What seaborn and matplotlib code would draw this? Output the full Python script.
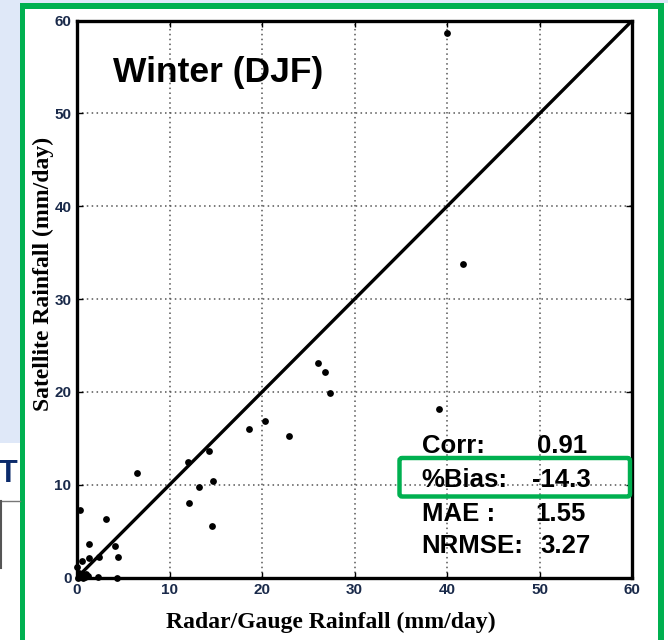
import matplotlib
matplotlib.use("Agg")
import matplotlib.pyplot as plt
from matplotlib import font_manager
from matplotlib.patches import Rectangle, FancyBboxPatch
import seaborn as sns
import pandas as pd

# ---- data ----
radar_gauge = [40.0, 41.7, 39.15, 26.0, 26.8, 27.3, 18.6, 20.3, 22.9, 14.3, 12.0,
               6.5, 14.7, 13.2, 12.1, 14.6, 0.36, 3.1, 1.3, 4.1, 4.4, 2.4, 1.3,
               0.5, 0.0, 2.3, 4.3, 0.1, 0.3, 0.5, 0.7, 0.9, 1.2, 0.2, 0.6, 1.0]
satellite = [58.7, 33.8, 18.15, 23.15, 22.1, 19.9, 16.0, 16.9, 15.3, 13.6, 12.5,
             11.3, 10.4, 9.8, 8.05, 5.6, 7.26, 6.3, 3.6, 3.4, 2.2, 2.2, 2.1,
             1.8, 1.1, 0.05, 0.0, 0.0, 0.2, 0.1, 0.3, 0.1, 0.2, 0.5, 0.0, 0.4]
axis_limits = [0, 60]
tick_values = [0, 10, 20, 30, 40, 50, 60]
title_text = "Winter (DJF)"
stat_names = ["Corr:", "%Bias:", "MAE :", "NRMSE:"]
stat_values = ["0.91", "-14.3", "1.55", "3.27"]

df = pd.DataFrame({"x": radar_gauge, "y": satellite})

available = {f.name for f in font_manager.fontManager.ttflist}
narrow = "Liberation Sans Narrow" if "Liberation Sans Narrow" in available else "Liberation Sans"
title_size = 31 if narrow == "Liberation Sans Narrow" else 25.5

W, H = 668, 640
fig = plt.figure(figsize=(W / 100, H / 100), dpi=100)
fig.patch.set_facecolor("white")

def fx(px):
    return px / W

def fy(py):
    return 1 - py / H

GREEN = "#00b050"
LBLUE = "#dfe8f8"
# background pieces outside the frame
fig.patches.append(Rectangle((0, fy(443)), fx(22), fy(0) - fy(443), transform=fig.transFigure,
                             facecolor=LBLUE, edgecolor="none", zorder=0))
fig.patches.append(Rectangle((0, fy(3)), 1, fy(0) - fy(3), transform=fig.transFigure,
                             facecolor=LBLUE, edgecolor="none", zorder=0))
# green frame
fig.patches.append(Rectangle((fx(20), fy(645)), fx(5), fy(3) - fy(645), transform=fig.transFigure,
                             facecolor=GREEN, edgecolor="none", zorder=1))
fig.patches.append(Rectangle((fx(20), fy(9)), fx(664) - fx(20), fy(3) - fy(9), transform=fig.transFigure,
                             facecolor=GREEN, edgecolor="none", zorder=1))
fig.patches.append(Rectangle((fx(658), fy(645)), fx(6), fy(3) - fy(645), transform=fig.transFigure,
                             facecolor=GREEN, edgecolor="none", zorder=1))
# fragment of neighbouring slide content on the left
fig.text(fx(-1), fy(482), "T", fontsize=22, fontweight="bold", color="#0b2a6b",
         family="Liberation Sans", ha="left", va="baseline")
fig.lines.append(plt.Line2D([0, fx(20)], [fy(501), fy(501)], transform=fig.transFigure,
                            color="#777777", lw=1))
fig.lines.append(plt.Line2D([fx(0.8), fx(0.8)], [fy(501), fy(568)], transform=fig.transFigure,
                            color="#555555", lw=1.5))

ax = fig.add_axes([fx(77), fy(577.6), fx(632.3) - fx(77), fy(20.5) - fy(577.6)])
ax.set_facecolor("white")

sns.scatterplot(data=df, x="x", y="y", ax=ax, color="black", s=24, linewidth=0,
                zorder=4, clip_on=False)
ax.plot(axis_limits, axis_limits, color="black", lw=2.4, zorder=3, solid_capstyle="butt")

ax.set_xlim(axis_limits)
ax.set_ylim(axis_limits)
ax.set_xticks(tick_values)
ax.set_yticks(tick_values)
ax.grid(True, linestyle=(0, (1, 2.2)), color="#555555", lw=1.1, zorder=1)
for s in ax.spines.values():
    s.set_linewidth(2.4)
    s.set_color("black")
    s.set_zorder(5)
ax.tick_params(direction="in", length=4, width=1, top=True, right=True,
               labelsize=11, labelcolor="#1a2a4a", pad=4)
for lab in ax.get_xticklabels() + ax.get_yticklabels():
    lab.set_fontfamily(narrow)
    lab.set_fontweight("bold")
ax.set_xlabel("")
ax.set_ylabel("")

fig.text(fx(331), fy(628), "Radar/Gauge Rainfall (mm/day)", fontsize=17, fontweight="bold",
         family="Liberation Serif", ha="center", va="baseline")
fig.text(fx(43), fy(274), "Satellite Rainfall (mm/day)", fontsize=17, fontweight="bold",
         family="Liberation Serif", ha="center", va="center", rotation=90)

fig.text(fx(113), fy(81.7), title_text, fontsize=title_size, fontweight="bold", family=narrow,
         ha="left", va="baseline")

baselines = [453.3, 486.7, 520.7, 553.3]
value_x = [536.7, 531.7, 535.0, 540.7]
for name, val, b, vx in zip(stat_names, stat_values, baselines, value_x):
    fig.text(fx(421.7), fy(b), name, fontsize=18.5, fontweight="bold",
             family="Liberation Sans", ha="left", va="baseline", zorder=6)
    fig.text(fx(vx), fy(b), val, fontsize=18.5, fontweight="bold",
             family="Liberation Sans", ha="left", va="baseline", zorder=6)

box = FancyBboxPatch((fx(399.5), fy(496.5)), fx(630) - fx(399.5), fy(458) - fy(496.5),
                     boxstyle="round,pad=0,rounding_size=0.004", transform=fig.transFigure,
                     facecolor="none", edgecolor=GREEN, lw=3.2, zorder=7)
fig.patches.append(box)

fig.savefig("out.png", dpi=100, facecolor=fig.get_facecolor())
